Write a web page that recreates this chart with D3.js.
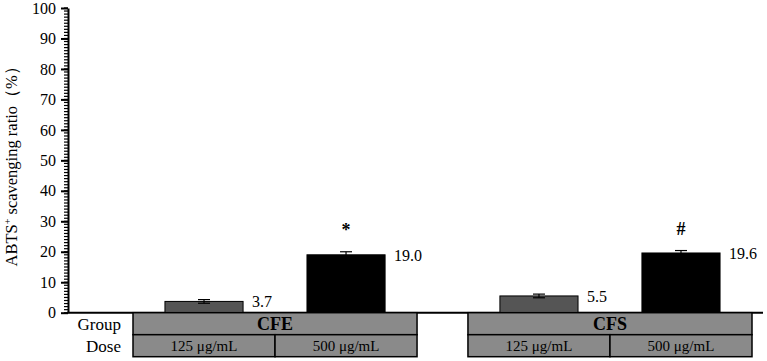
<!DOCTYPE html>
<html>
<head>
<meta charset="utf-8">
<script src="https://cdn.jsdelivr.net/npm/d3@7"></script>
<style>
  body { margin: 0; background: #fff; }
</style>
</head>
<body>
<div id="chart"></div>
<script>
var width = 767,
    height = 361;
var serif = "'Liberation Serif', 'Times New Roman', 'DejaVu Serif', serif";

// data
var groups = ["CFE", "CFS"];
var doses = ["125 μg/mL", "500 μg/mL"];
var values = [[3.7, 19.0], [5.5, 19.6]];
var errors = [[0.6, 1.0], [0.6, 0.8]];
var labels = [["3.7", "19.0"], ["5.5", "19.6"]];
var marks = [["", "*"], ["", "#"]];
var barColors = ["#555555", "#000000"];
var yTicks = [0, 10, 20, 30, 40, 50, 60, 70, 80, 90, 100];

var svg = d3.select("#chart").append("svg")
    .attr("width", width)
    .attr("height", height)
    .style("font-family", serif);

var axisX = 68, axisRight = 763;

var yScale = d3.scaleLinear().domain([0, 100]).range([312.7, 8]);

var xGroup = d3.scaleBand().domain(groups).range([133, 752]).paddingInner(0.152).paddingOuter(0);
var xDose = d3.scaleBand().domain(doses).range([0, xGroup.bandwidth()]);
var barW = xDose.bandwidth() * 0.55;

// y axis: minor ticks
var g = svg.append("g");
g.selectAll(".minor").data(d3.range(0, 101, 1))
  .enter().append("line")
    .attr("x1", axisX - 4).attr("x2", axisX)
    .attr("y1", function(d) { return yScale(d); })
    .attr("y2", function(d) { return yScale(d); })
    .attr("stroke", "#000").attr("stroke-width", 1.2);

var yAxis = d3.axisLeft(yScale).tickValues(yTicks).tickSize(7).tickPadding(5).tickSizeOuter(0);
var ya = svg.append("g").attr("transform", "translate(" + axisX + ",0)").call(yAxis)
    .attr("font-family", null).attr("font-size", null);
ya.select(".domain").attr("stroke-width", 2);
ya.selectAll(".tick line").attr("stroke-width", 2);
ya.selectAll(".tick text").style("font-size", "16px").style("font-family", serif).attr("fill", "#000");

// x baseline
svg.append("line")
    .attr("x1", axisX - 1).attr("x2", axisRight)
    .attr("y1", yScale(0)).attr("y2", yScale(0))
    .attr("stroke", "#000").attr("stroke-width", 2);

// y title
svg.append("text")
    .attr("transform", "translate(17," + (yScale(50) + 2) + ") rotate(-90)")
    .attr("text-anchor", "middle")
    .style("font-size", "16.5px")
    .html('ABTS<tspan dy="-6" font-size="10">+</tspan><tspan dy="6"> scavenging ratio（%）</tspan>');

// bars
var data = [];
groups.forEach(function(gr, i) {
  doses.forEach(function(ds, j) {
    data.push({group: gr, dose: ds, j: j, v: values[i][j], e: errors[i][j], label: labels[i][j], mark: marks[i][j]});
  });
});

function cx(d) { return xGroup(d.group) + xDose(d.dose) + xDose.bandwidth() / 2; }

var bars = svg.append("g").selectAll("g").data(data).enter().append("g");

bars.append("rect")
    .attr("x", function(d) { return cx(d) - barW / 2; })
    .attr("y", function(d) { return yScale(d.v); })
    .attr("width", barW)
    .attr("height", function(d) { return yScale(0) - yScale(d.v); })
    .attr("fill", function(d) { return barColors[d.j]; })
    .attr("stroke", "#000").attr("stroke-width", 1);

bars.append("line")
    .attr("x1", cx).attr("x2", cx)
    .attr("y1", function(d) { return yScale(d.v - d.e); })
    .attr("y2", function(d) { return yScale(d.v + d.e); })
    .attr("stroke", "#000").attr("stroke-width", 1.2);
[-1, 1].forEach(function(s) {
  bars.append("line")
      .attr("x1", function(d) { return cx(d) - 6; })
      .attr("x2", function(d) { return cx(d) + 6; })
      .attr("y1", function(d) { return yScale(d.v + s * d.e); })
      .attr("y2", function(d) { return yScale(d.v + s * d.e); })
      .attr("stroke", "#000").attr("stroke-width", 1.2);
});

bars.append("text")
    .attr("x", function(d) { return cx(d) + barW / 2 + 9; })
    .attr("y", function(d) { return yScale(d.v) + 6; })
    .style("font-size", "16px")
    .text(function(d) { return d.label; });

bars.append("text")
    .attr("x", cx)
    .attr("y", function(d) { return yScale(d.v + d.e) - 16; })
    .attr("text-anchor", "middle")
    .style("font-size", "18px")
    .style("font-weight", "bold")
    .text(function(d) { return d.mark; });

// group / dose table
var rowTop = yScale(0), rowH = 22;
var table = svg.append("g");
table.selectAll(".grp").data(groups).enter().append("rect")
    .attr("x", function(d) { return xGroup(d); })
    .attr("y", rowTop)
    .attr("width", xGroup.bandwidth())
    .attr("height", rowH)
    .attr("fill", "#8a8a8a").attr("stroke", "#000").attr("stroke-width", 1.5);
table.selectAll(".grpt").data(groups).enter().append("text")
    .attr("x", function(d) { return xGroup(d) + xGroup.bandwidth() / 2; })
    .attr("y", rowTop + 17)
    .attr("text-anchor", "middle")
    .style("font-size", "18px").style("font-weight", "bold")
    .text(function(d) { return d; });

var cells = [];
groups.forEach(function(gr) { doses.forEach(function(ds) { cells.push({group: gr, dose: ds}); }); });
table.selectAll(".dose").data(cells).enter().append("rect")
    .attr("x", function(d) { return xGroup(d.group) + xDose(d.dose); })
    .attr("y", rowTop + rowH)
    .attr("width", xDose.bandwidth())
    .attr("height", rowH)
    .attr("fill", "#8a8a8a").attr("stroke", "#000").attr("stroke-width", 1.5);
table.selectAll(".doset").data(cells).enter().append("text")
    .attr("x", function(d) { return xGroup(d.group) + xDose(d.dose) + xDose.bandwidth() / 2; })
    .attr("y", rowTop + rowH + 16)
    .attr("text-anchor", "middle")
    .style("font-size", "15px")
    .text(function(d) { return d.dose; });

svg.append("text").attr("x", 121).attr("y", rowTop + 17).attr("text-anchor", "end")
    .style("font-size", "17px").text("Group");
svg.append("text").attr("x", 121).attr("y", rowTop + rowH + 17).attr("text-anchor", "end")
    .style("font-size", "17px").text("Dose");
</script>
</body>
</html>
